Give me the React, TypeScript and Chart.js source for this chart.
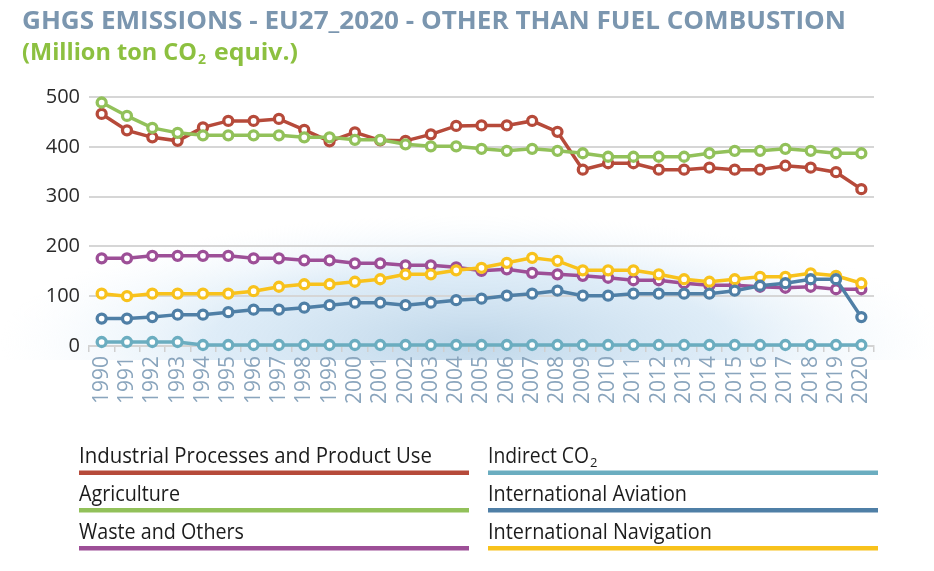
import React, { useEffect, useRef } from 'react';
import { Chart, registerables } from 'chart.js';

Chart.register(...registerables);

const years = ['1990', '1991', '1992', '1993', '1994', '1995', '1996', '1997', '1998', '1999', '2000', '2001', '2002', '2003', '2004', '2005', '2006', '2007', '2008', '2009', '2010', '2011', '2012', '2013', '2014', '2015', '2016', '2017', '2018', '2019', '2020'];

const industrial = [466, 433, 419, 412, 439, 452, 452, 456, 434, 411, 429, 413, 412, 425, 442, 443, 443, 452, 430, 354, 367, 367, 354, 354, 358, 354, 354, 362, 358, 349, 315];
const agriculture = [489, 462, 438, 428, 423, 423, 423, 423, 419, 419, 414, 414, 405, 401, 401, 396, 392, 396, 392, 387, 380, 380, 380, 380, 387, 392, 392, 396, 392, 387, 387];
const waste = [176, 176, 181, 181, 181, 181, 176, 176, 172, 172, 166, 166, 162, 162, 158, 151, 154, 147, 144, 141, 137, 132, 132, 126, 122, 122, 119, 117, 119, 114, 114];
const indirectCO2 = [8, 8, 8, 8, 2, 2, 2, 2, 2, 2, 2, 2, 2, 2, 2, 2, 2, 2, 2, 2, 2, 2, 2, 2, 2, 2, 2, 2, 2, 2, 2];
const aviation = [55, 55, 58, 63, 63, 68, 73, 73, 77, 82, 87, 87, 82, 87, 92, 95, 101, 105, 111, 101, 101, 105, 105, 105, 105, 111, 121, 126, 134, 134, 58];
const navigation = [105, 100, 105, 105, 105, 105, 110, 119, 124, 124, 129, 134, 144, 144, 152, 157, 167, 177, 171, 152, 152, 152, 144, 134, 129, 134, 139, 139, 146, 141, 126];

const yTicks = [0, 100, 200, 300, 400, 500];

const COLORS = {
  industrial: '#b64a3a',
  agriculture: '#92c15a',
  waste: '#9d4f97',
  indirect: '#6badc0',
  aviation: '#4f7fa6',
  navigation: '#f8c21c',
};

const glowPlugin = {
  id: 'glow',
  beforeDraw(chart: any) {
    const { ctx, chartArea } = chart;
    const cx = (chartArea.left + chartArea.right) / 2 - 10;
    const cy = chartArea.bottom - 4;
    const r = (chartArea.right - chartArea.left) * 0.6;
    ctx.save();
    ctx.beginPath();
    ctx.rect(0, 0, chart.width, chartArea.bottom + 14);
    ctx.clip();
    ctx.translate(cx, cy);
    ctx.scale(1, 0.27);
    const g = ctx.createRadialGradient(0, 0, 0, 0, 0, r);
    g.addColorStop(0, 'rgba(165,198,224,0.7)');
    g.addColorStop(0.55, 'rgba(190,218,240,0.5)');
    g.addColorStop(1, 'rgba(232,243,251,0)');
    ctx.fillStyle = g;
    ctx.fillRect(-r, -r, 2 * r, 2 * r);
    ctx.restore();
  },
};

function makeDataset(label: string, data: number[], color: string, order: number) {
  return {
    label,
    data,
    borderColor: color,
    backgroundColor: '#ffffff',
    pointBackgroundColor: '#ffffff',
    pointBorderColor: color,
    pointRadius: 4.5,
    pointBorderWidth: 3.3,
    borderWidth: 3.5,
    tension: 0,
    clip: false as any,
    order,
  };
}

function ChartCanvas() {
  const ref = useRef<HTMLCanvasElement | null>(null);
  useEffect(() => {
    if (!ref.current) return;
    const chart = new Chart(ref.current, {
      type: 'line',
      data: {
        labels: years,
        datasets: [
          makeDataset('Industrial Processes and Product Use', industrial, COLORS.industrial, 5),
          makeDataset('Agriculture', agriculture, COLORS.agriculture, 4),
          makeDataset('Waste and Others', waste, COLORS.waste, 3),
          makeDataset('Indirect CO2', indirectCO2, COLORS.indirect, 6),
          makeDataset('International Aviation', aviation, COLORS.aviation, 1),
          makeDataset('International Navigation', navigation, COLORS.navigation, 2),
        ],
      },
      options: {
        animation: false,
        responsive: false,
        maintainAspectRatio: false,
        layout: { padding: { top: 97, right: 60, left: 0, bottom: 0 } },
        plugins: {
          legend: { display: false },
          title: { display: false },
          tooltip: { enabled: false },
        },
        scales: {
          x: {
            type: 'category',
            offset: true,
            grid: {
              display: true,
              drawOnChartArea: false,
              drawTicks: true,
              tickLength: 6,
              color: '#cfcfcf',
              lineWidth: 1.5,
              offset: true,
            },
            border: { display: true, color: '#d3d3d3', width: 2 },
            ticks: {
              minRotation: 90,
              maxRotation: 90,
              autoSkip: false,
              padding: 4,
              color: '#8aa5bd',
              font: { family: 'Open Sans', size: 21 },
            },
            afterFit: (s: any) => {
              s.height = 74;
            },
          },
          y: {
            min: 0,
            max: 500,
            afterBuildTicks: (s: any) => {
              s.ticks = yTicks.map((v) => ({ value: v }));
            },
            ticks: {
              stepSize: 100,
              padding: 9,
              color: '#2a2a2a',
              font: { family: 'Open Sans', size: 20 },
            },
            grid: { color: '#d6d6d6', lineWidth: 2, drawTicks: false },
            border: { display: false },
            afterFit: (s: any) => {
              s.width = 89;
            },
          },
        },
      },
      plugins: [glowPlugin],
    });
    return () => chart.destroy();
  }, []);
  return (
    <canvas
      ref={ref}
      width={934}
      height={420}
      style={{ position: 'absolute', left: 0, top: 0, width: 934, height: 420 }}
    />
  );
}

const legendItems = [
  { label: 'Industrial Processes and Product Use', color: COLORS.industrial, col: 0, row: 0, w: 353 },
  { label: 'Agriculture', color: COLORS.agriculture, col: 0, row: 1, w: 101 },
  { label: 'Waste and Others', color: COLORS.waste, col: 0, row: 2, w: 165 },
  { label: 'Indirect CO', color: COLORS.indirect, col: 1, row: 0, w: 101, sub: '2' },
  { label: 'International Aviation', color: COLORS.aviation, col: 1, row: 1, w: 199 },
  { label: 'International Navigation', color: COLORS.navigation, col: 1, row: 2, w: 224 },
];

export default function App() {
  const colX = [79, 488];
  const colW = 390;
  const rowBase = [463, 500.5, 538.5];
  const rowLine = [470.5, 508, 546];
  return (
    <div style={{ position: 'absolute', left: 0, top: 0, width: 934, height: 571, background: '#ffffff', overflow: 'hidden' }}>
      <ChartCanvas />
      <svg
        width={934}
        height={571}
        style={{ position: 'absolute', left: 0, top: 0, pointerEvents: 'none' }}
      >
        <text
          x={22}
          y={29}
          fontFamily="Open Sans"
          fontWeight={700}
          fontSize={25}
          fill="#7b96af"
          textLength={824}
          lengthAdjust="spacingAndGlyphs"
        >
          GHGS EMISSIONS - EU27_2020 - OTHER THAN FUEL COMBUSTION
        </text>
        <text x={22} y={60} fontFamily="Open Sans" fontWeight={700} fontSize={24} fill="#8cc040" textLength={175} lengthAdjust="spacingAndGlyphs">
          (Million ton CO
        </text>
        <text x={198} y={64} fontFamily="Open Sans" fontWeight={700} fontSize={14} fill="#8cc040">
          2
        </text>
        <text x={214} y={60} fontFamily="Open Sans" fontWeight={700} fontSize={24} fill="#8cc040" textLength={84} lengthAdjust="spacingAndGlyphs">
          equiv.)
        </text>
        {legendItems.map((it) => (
          <g key={it.label}>
            <text
              x={colX[it.col]}
              y={rowBase[it.row]}
              fontFamily="Open Sans"
              fontSize={21}
              fill="#1c1c1c"
              textLength={it.w}
              lengthAdjust="spacingAndGlyphs"
            >
              {it.label}
            </text>
            {it.sub ? (
              <text x={colX[it.col] + it.w + 1} y={rowBase[it.row] + 4} fontFamily="Open Sans" fontSize={13} fill="#1c1c1c">
                {it.sub}
              </text>
            ) : null}
            <rect x={colX[it.col]} y={rowLine[it.row]} width={colW} height={4.5} fill={it.color} />
          </g>
        ))}
      </svg>
    </div>
  );
}
